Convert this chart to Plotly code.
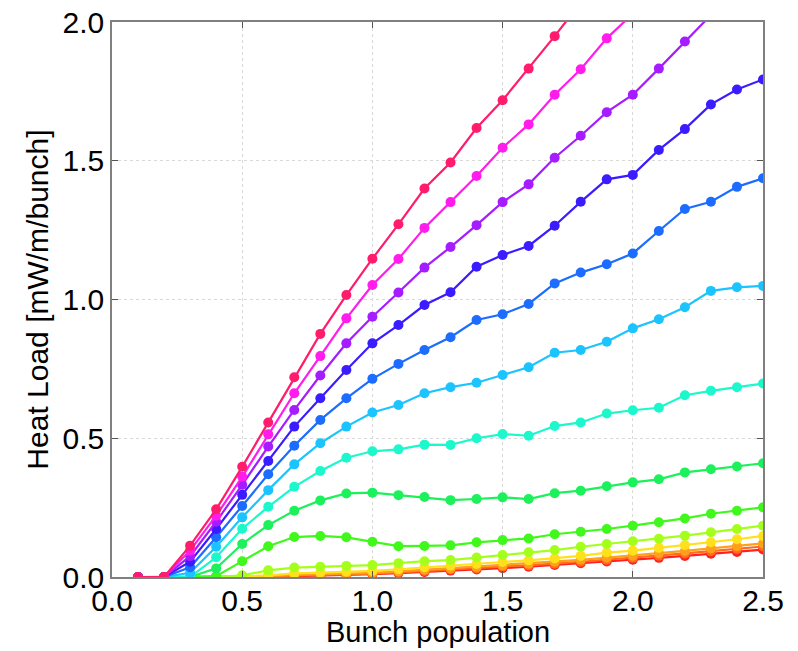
import plotly.graph_objects as go

# Bunch population (x) sampling shared by every curve
bunch_population = [0.1, 0.2, 0.3, 0.4, 0.5, 0.6, 0.7, 0.8, 0.9, 1.0,
                    1.1, 1.2, 1.3, 1.4, 1.5, 1.6, 1.7, 1.8, 1.9, 2.0,
                    2.1, 2.2, 2.3, 2.4, 2.5]

# Heat load curves [mW/m/bunch], one list per parameter value (lowest to highest)
load_red = [0, 0, 0, 0, 0, 0.001, 0.003, 0.005, 0.007, 0.010,
            0.014, 0.018, 0.023, 0.027, 0.032, 0.037, 0.043, 0.050, 0.056, 0.062,
            0.069, 0.076, 0.084, 0.090, 0.099]
load_darkorange = [0, 0, 0, 0, 0, 0.002, 0.005, 0.007, 0.009, 0.012,
                   0.017, 0.022, 0.027, 0.031, 0.037, 0.042, 0.048, 0.055, 0.062, 0.069,
                   0.077, 0.085, 0.093, 0.101, 0.110]
load_orange = [0, 0, 0, 0, 0, 0.003, 0.008, 0.010, 0.012, 0.015,
               0.020, 0.026, 0.031, 0.036, 0.042, 0.048, 0.055, 0.062, 0.070, 0.077,
               0.086, 0.094, 0.103, 0.111, 0.121]
load_yellow = [0, 0, 0, 0, 0.002, 0.006, 0.013, 0.016, 0.019, 0.022,
               0.028, 0.035, 0.041, 0.047, 0.054, 0.060, 0.067, 0.076, 0.088, 0.095,
               0.105, 0.115, 0.125, 0.136, 0.148]
load_yellowgreen = [0, 0, 0, 0, 0.006, 0.024, 0.034, 0.037, 0.040, 0.043,
                    0.050, 0.057, 0.061, 0.070, 0.079, 0.089, 0.097, 0.109, 0.119, 0.129,
                    0.138, 0.149, 0.161, 0.173, 0.185]
load_green = [0, 0, 0, 0.003, 0.057, 0.111, 0.144, 0.148, 0.143, 0.127,
              0.111, 0.112, 0.114, 0.125, 0.133, 0.139, 0.154, 0.163, 0.173, 0.185,
              0.197, 0.211, 0.228, 0.239, 0.251]
load_spring = [0, 0, 0, 0.031, 0.119, 0.187, 0.239, 0.276, 0.301, 0.304,
               0.295, 0.288, 0.277, 0.281, 0.287, 0.281, 0.302, 0.311, 0.327, 0.341,
               0.352, 0.377, 0.388, 0.398, 0.410]
load_turquoise = [0, 0, 0, 0.071, 0.174, 0.253, 0.325, 0.382, 0.430, 0.453,
                  0.460, 0.477, 0.476, 0.500, 0.515, 0.509, 0.544, 0.557, 0.589, 0.601,
                  0.610, 0.655, 0.671, 0.684, 0.697]
load_sky = [0, 0, 0.015, 0.109, 0.215, 0.313, 0.406, 0.482, 0.542, 0.593,
            0.620, 0.662, 0.684, 0.700, 0.728, 0.756, 0.808, 0.818, 0.848, 0.896,
            0.929, 0.972, 1.031, 1.044, 1.049]
load_blue = [0, 0, 0.035, 0.143, 0.256, 0.370, 0.473, 0.566, 0.644, 0.714,
             0.768, 0.818, 0.864, 0.926, 0.947, 0.984, 1.058, 1.097, 1.127, 1.166,
             1.247, 1.326, 1.352, 1.406, 1.437]
load_indigo = [0, 0, 0.055, 0.173, 0.296, 0.418, 0.542, 0.644, 0.746, 0.842,
               0.908, 0.980, 1.026, 1.118, 1.160, 1.193, 1.266, 1.352, 1.433, 1.449,
               1.539, 1.614, 1.703, 1.757, 1.793]
load_purple = [0, 0, 0.075, 0.199, 0.332, 0.470, 0.602, 0.726, 0.842, 0.938,
               1.025, 1.115, 1.189, 1.268, 1.351, 1.415, 1.511, 1.590, 1.675, 1.738,
               1.832, 1.930, 2.025]
load_magenta = [0, 0, 0.095, 0.221, 0.361, 0.514, 0.662, 0.796, 0.932, 1.052,
                1.146, 1.258, 1.351, 1.445, 1.547, 1.631, 1.738, 1.830, 1.941, 2.030]
load_pink = [0, 0, 0.113, 0.244, 0.397, 0.557, 0.720, 0.876, 1.016, 1.147,
             1.271, 1.400, 1.494, 1.618, 1.718, 1.832, 1.949, 2.070]

x_title = "Bunch population"
y_title = "Heat Load [mW/m/bunch]"

curves = [
    (load_red, "#ff2020"),
    (load_darkorange, "#ff6a1c"),
    (load_orange, "#ffa01c"),
    (load_yellow, "#ffe01c"),
    (load_yellowgreen, "#a4ff1c"),
    (load_green, "#40f81c"),
    (load_spring, "#1cf05a"),
    (load_turquoise, "#1cf8cc"),
    (load_sky, "#1cc4ff"),
    (load_blue, "#1c6cff"),
    (load_indigo, "#3a1cff"),
    (load_purple, "#a41cff"),
    (load_magenta, "#ff1cec"),
    (load_pink, "#ff1c6c"),
]

FONT = "Liberation Sans, Arial, sans-serif"

fig = go.Figure()
for values, color in curves:
    fig.add_trace(go.Scatter(
        x=bunch_population[:len(values)],
        y=values,
        mode="lines+markers",
        line=dict(color=color, width=2.2),
        marker=dict(color=color, size=10),
        showlegend=False,
    ))

axis_common = dict(
    showline=True,
    linecolor="#808080",
    linewidth=1.5,
    mirror="ticks",
    ticks="inside",
    ticklen=6,
    tickcolor="#555555",
    showgrid=True,
    gridcolor="#d8d8d8",
    griddash="dot",
    gridwidth=1,
    zeroline=False,
    automargin=False,
    tickfont=dict(family=FONT, size=30, color="#000000"),
)

fig.update_xaxes(range=[0, 2.5], dtick=0.5, tickformat=".1f",
                 ticklabelstandoff=-4, **axis_common)
fig.update_yaxes(range=[0, 2.0], dtick=0.5, tickformat=".1f", **axis_common)

# Axis titles placed as paper-anchored text
fig.add_annotation(
    text=x_title, xref="paper", yref="paper", x=0.5, y=-0.099,
    xanchor="center", yanchor="middle", showarrow=False,
    font=dict(family=FONT, size=29, color="#000000"),
)
fig.add_annotation(
    text=y_title, xref="paper", yref="paper", x=-0.115, y=0.5,
    xanchor="center", yanchor="middle", textangle=-90, showarrow=False,
    font=dict(family=FONT, size=30, color="#000000"),
)

fig.update_layout(
    width=798,
    height=651,
    margin=dict(l=112, r=35, t=22, b=74),
    paper_bgcolor="#ffffff",
    plot_bgcolor="#ffffff",
)

fig.write_html("out.html")
